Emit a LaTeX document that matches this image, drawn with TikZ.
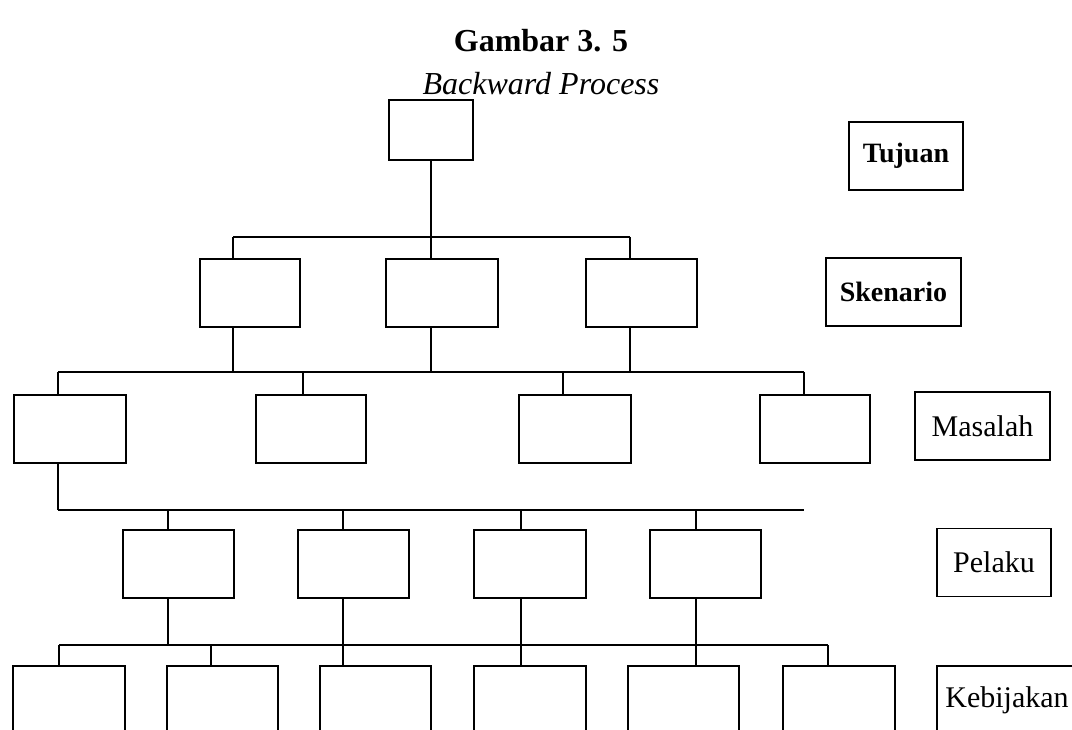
\documentclass[tikz,border=0pt]{standalone}
\usepackage{fontspec}
\setmainfont{Liberation Serif}
\usetikzlibrary{positioning, calc}

\begin{document}
\begin{tikzpicture}[
  x=1pt, y=-1pt,
  blank/.style={draw, line width=1.9pt, inner sep=0pt, minimum height=68pt},
  levelbox/.style={draw, line width=1.9pt, inner sep=0pt, minimum height=68pt, font=\fontsize{30}{32}\selectfont},
  link/.style={line width=1.7pt},
  heavy/.style={line width=2.5pt}
]
  \clip (0,0) rectangle (1072,730);

  \node[font=\bfseries\fontsize{32}{34}\selectfont] (title) at (541,41) {Gambar 3. 5};
  \node[font=\itshape\fontsize{32}{34}\selectfont] (subtitle) at (541,84) {Backward Process};

  \node[blank, minimum width=84pt, minimum height=60pt] (goal) at (431,130) {};

  \node[blank, minimum width=100pt] (sc1) at (250,293) {};
  \node[blank, minimum width=112pt] (sc2) at (442,293) {};
  \node[blank, minimum width=111pt] (sc3) at (641.5,293) {};

  \node[blank, minimum width=112pt] (ms1) at (70,429) {};
  \node[blank, minimum width=110pt] (ms2) at (311,429) {};
  \node[blank, minimum width=112pt] (ms3) at (575,429) {};
  \node[blank, minimum width=110pt] (ms4) at (815,429) {};

  \node[blank, minimum width=111pt] (pl1) at (178.5,564) {};
  \node[blank, minimum width=111pt] (pl2) at (353.5,564) {};
  \node[blank, minimum width=112pt] (pl3) at (530,564) {};
  \node[blank, minimum width=111pt] (pl4) at (705.5,564) {};

  \node[blank, minimum width=112pt] (kb1) at (69,700) {};
  \node[blank, minimum width=111pt] (kb2) at (222.5,700) {};
  \node[blank, minimum width=111pt] (kb3) at (375.5,700) {};
  \node[blank, minimum width=112pt] (kb4) at (530,700) {};
  \node[blank, minimum width=111pt] (kb5) at (683.5,700) {};
  \node[blank, minimum width=112pt] (kb6) at (839,700) {};

  \node[levelbox, font=\bfseries\fontsize{28}{30}\selectfont, minimum width=114pt] (tujuan) at (906,156) {Tujuan};
  \node[levelbox, font=\bfseries\fontsize{28}{30}\selectfont, minimum width=135pt] (skenario) at (893.5,292) {Skenario};
  \node[levelbox, minimum width=135pt] (masalah) at (982.5,426) {Masalah};
  \node[levelbox, minimum width=114pt] (pelaku) at (994,562.5) {Pelaku};
  \node[levelbox, minimum width=140pt] (kebijakan) at (1007,700) {Kebijakan};

  \coordinate (j1) at (431,237);
  \coordinate (j1l) at (233,237);
  \coordinate (j1r) at (630,237);
  \coordinate (j2l) at (58,372);
  \coordinate (j2r) at (804,372);
  \coordinate (j3l) at (58,510);
  \coordinate (j3r) at (804,510);
  \coordinate (j4l) at (59,645);
  \coordinate (j4r) at (828,645);

  \draw[link] (goal) -- (j1);
  \draw[link] (j1l) -- (j1r);
  \draw[link] (j1l) -- (sc1.north -| j1l);
  \draw[link] (j1) -- (sc2.north -| j1);
  \draw[link] (j1r) -- (sc3.north -| j1r);

  \draw[link] (sc1.south -| j1l) -- (j1l |- j2l);
  \draw[heavy] (sc2.south -| j1) -- (j1 |- j2l);
  \draw[heavy] (sc3.south -| j1r) -- (j1r |- j2l);
  \draw[link] (j2l) -- (j2r);
  \draw[link] (j2l) -- (ms1.north -| j2l);
  \draw[link] (303,372) -- (ms2.north -| 303,0);
  \draw[link] (563,372) -- (ms3.north -| 563,0);
  \draw[link] (j2r) -- (ms4.north -| j2r);

  \draw[link] (ms1.south -| j3l) -- (j3l);
  \draw[link] (j3l) -- (j3r);
  \draw[link] (168,510) -- (pl1.north -| 168,0);
  \draw[link] (343,510) -- (pl2.north -| 343,0);
  \draw[link] (521,510) -- (pl3.north -| 521,0);
  \draw[link] (696,510) -- (pl4.north -| 696,0);

  \draw[link] (pl1.south -| 168,0) -- (168,645);
  \draw[heavy] (pl2.south -| 343,0) -- (kb3.north -| 343,0);
  \draw[heavy] (pl3.south -| 521,0) -- (kb4.north -| 521,0);
  \draw[heavy] (pl4.south -| 696,0) -- (kb5.north -| 696,0);
  \draw[link] (j4l) -- (j4r);
  \draw[link] (j4l) -- (kb1.north -| j4l);
  \draw[link] (211,645) -- (kb2.north -| 211,0);
  \draw[link] (j4r) -- (kb6.north -| j4r);
\end{tikzpicture}
\end{document}
